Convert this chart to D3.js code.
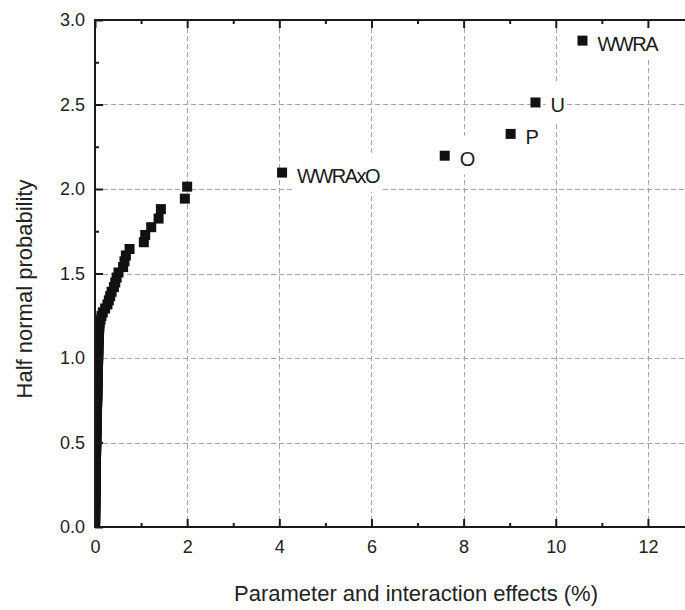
<!DOCTYPE html>
<html>
<head>
<meta charset="utf-8">
<script src="https://cdn.jsdelivr.net/npm/d3@7"></script>
<style>
  html, body { margin: 0; padding: 0; background: #fff; }
  svg { display: block; font-family: Arial, "Liberation Sans", sans-serif; }
</style>
</head>
<body>
<svg id="chart" width="685" height="610"></svg>
<script>
// Half-normal probability plot of parameter and interaction effects.

// Half normal probability of each ranked effect (ascending)
const halfNormalProb = [
  0.005,0.015,0.025,0.035,0.045,0.055,0.065,0.075,0.085,0.095,
  0.106,0.116,0.126,0.136,0.146,0.156,0.166,0.176,0.187,0.197,
  0.207,0.217,0.228,0.238,0.248,0.259,0.269,0.279,0.290,0.300,
  0.311,0.321,0.332,0.343,0.353,0.364,0.375,0.385,0.396,0.407,
  0.418,0.429,0.440,0.451,0.462,0.473,0.485,0.496,0.507,0.519,
  0.530,0.542,0.553,0.565,0.577,0.589,0.601,0.613,0.625,0.637,
  0.650,0.662,0.675,0.687,0.700,0.713,0.726,0.739,0.752,0.766,
  0.779,0.793,0.806,0.820,0.835,0.849,0.863,0.878,0.893,0.908,
  0.923,0.939,0.954,0.970,0.986,1.003,1.019,1.036,1.054,1.071,
  1.089,1.108,1.126,1.146,1.165,1.185,1.206,
  1.227,1.248,1.270,1.293,1.317,1.341,1.366,1.392,1.419,1.447,
  1.476,1.506,1.538,1.572,1.607,1.645,1.685,1.728,1.774,1.825,
  1.881,1.943,2.014,2.097,2.197,2.326,2.512,2.878
];

// Absolute effect size (%) of each ranked effect
const effectSize = [
  0.001,0.001,0.002,0.002,0.003,0.003,0.004,0.004,0.004,0.005,
  0.005,0.006,0.006,0.007,0.007,0.008,0.008,0.009,0.009,0.010,
  0.011,0.011,0.012,0.012,0.013,0.013,0.014,0.015,0.015,0.016,
  0.016,0.017,0.017,0.018,0.019,0.019,0.020,0.020,0.021,0.021,
  0.022,0.022,0.023,0.024,0.025,0.025,0.026,0.026,0.027,0.028,
  0.029,0.030,0.031,0.031,0.033,0.034,0.035,0.035,0.037,0.038,
  0.039,0.040,0.041,0.042,0.043,0.044,0.046,0.047,0.048,0.049,
  0.050,0.051,0.052,0.054,0.055,0.056,0.057,0.058,0.060,0.061,
  0.062,0.064,0.065,0.066,0.068,0.070,0.071,0.073,0.075,0.077,
  0.079,0.081,0.084,0.087,0.090,0.095,0.100,
  0.12,0.14,0.17,0.22,0.27,0.30,0.33,0.36,0.41,0.44,
  0.47,0.51,0.61,0.64,0.67,0.75,1.06,1.09,1.22,1.38,
  1.43,1.95,2.00,4.06,7.59,9.02,9.56,10.58
];

// Names of the largest effects, from the fifth largest up to the largest
const namedEffects = ["WWRAxO", "O", "P", "U", "WWRA"];

const xTicks = [0, 2, 4, 6, 8, 10, 12];
const xMinorTicks = [1, 3, 5, 7, 9, 11, 13];
const yTicks = [0.0, 0.5, 1.0, 1.5, 2.0, 2.5, 3.0];
const yMinorTicks = [0.25, 0.75, 1.25, 1.75, 2.25, 2.75];

const points = halfNormalProb.map((p, i) => ({ x: effectSize[i], y: p }));
const labelled = points.slice(points.length - namedEffects.length)
  .map((d, i) => ({ ...d, name: namedEffects[i] }));

const svg = d3.select("#chart");
const plotLeft = 95, plotTop = 20, plotBottom = 527, plotRight = 694;

const x = d3.scaleLinear().domain([0, 13]).range([plotLeft, plotRight]);
const y = d3.scaleLinear().domain([0, 3]).range([plotBottom, plotTop]);

const ink = "#1a1a1a";

// dashed grid
const grid = svg.append("g").attr("stroke", "#a3a3a3").attr("stroke-width", 1)
  .attr("stroke-dasharray", "5,3").attr("fill", "none");
grid.selectAll("line.v").data(xTicks.filter(t => t > 0)).join("line")
  .attr("class", "v")
  .attr("x1", d => Math.round(x(d)) + 0.5).attr("x2", d => Math.round(x(d)) + 0.5)
  .attr("y1", plotTop).attr("y2", plotBottom);
grid.selectAll("line.h").data(yTicks.filter(t => t > 0 && t < 3)).join("line")
  .attr("class", "h")
  .attr("y1", d => Math.round(y(d)) + 0.5).attr("y2", d => Math.round(y(d)) + 0.5)
  .attr("x1", plotLeft).attr("x2", plotRight);

// labels of the largest effects, on white boxes over the grid
const labelG = svg.append("g");
labelled.forEach(d => {
  const g = labelG.append("g");
  const t = g.append("text")
    .attr("x", x(d.x) + 15)
    .attr("y", y(d.y) + 10)
    .attr("font-size", 20)
    .attr("letter-spacing", d.name.length > 1 ? -1.5 : 0)
    .attr("fill", ink)
    .text(d.name);
  const bb = t.node().getBBox();
  g.insert("rect", "text")
    .attr("x", bb.x - 5).attr("y", bb.y - 12)
    .attr("width", bb.width + 7).attr("height", bb.height + 17)
    .attr("fill", "#fff");
});

// markers, clipped to the plot frame
svg.append("clipPath").attr("id", "plotClip")
  .append("rect").attr("x", plotLeft).attr("y", plotTop)
  .attr("width", plotRight - plotLeft).attr("height", plotBottom - plotTop);

const ms = 10;
svg.append("g").attr("clip-path", "url(#plotClip)")
  .selectAll("rect").data(points).join("rect")
  .attr("x", d => x(d.x) - ms / 2)
  .attr("y", d => y(d.y) - ms / 2)
  .attr("width", ms).attr("height", ms)
  .attr("fill", "#111");

// axes with inward ticks
function styleAxis(g) {
  g.select(".domain").remove();
  g.selectAll(".tick line").attr("stroke", ink).attr("stroke-width", 2);
  g.selectAll(".tick text").attr("fill", "#222").attr("font-size", 18)
    .attr("font-family", "Arial, 'Liberation Sans', sans-serif");
}

svg.append("g").attr("transform", `translate(0,${plotBottom})`)
  .call(d3.axisBottom(x).tickValues(xTicks).tickSize(-8).tickPadding(13)
    .tickFormat(d3.format("d")))
  .call(styleAxis);
svg.append("g").attr("transform", `translate(0,${plotBottom})`)
  .call(d3.axisBottom(x).tickValues(xMinorTicks).tickSize(-4).tickFormat(""))
  .call(styleAxis);
svg.append("g").attr("transform", `translate(0,${plotTop})`)
  .call(d3.axisTop(x).tickValues(xTicks).tickSize(-8).tickFormat(""))
  .call(styleAxis);
svg.append("g").attr("transform", `translate(0,${plotTop})`)
  .call(d3.axisTop(x).tickValues(xMinorTicks).tickSize(-4).tickFormat(""))
  .call(styleAxis);
svg.append("g").attr("transform", `translate(${plotLeft},0)`)
  .call(d3.axisLeft(y).tickValues(yTicks).tickSize(-8).tickPadding(10)
    .tickFormat(d3.format(".1f")))
  .call(styleAxis);
svg.append("g").attr("transform", `translate(${plotLeft},0)`)
  .call(d3.axisLeft(y).tickValues(yMinorTicks).tickSize(-4).tickFormat(""))
  .call(styleAxis);

// frame lines
const frame = svg.append("g").attr("stroke", ink).attr("stroke-width", 2);
frame.append("line").attr("x1", plotLeft).attr("x2", plotLeft).attr("y1", plotTop - 1).attr("y2", plotBottom + 1);
frame.append("line").attr("x1", plotLeft - 1).attr("x2", plotRight).attr("y1", plotTop).attr("y2", plotTop);
frame.append("line").attr("x1", plotLeft - 1).attr("x2", plotRight).attr("y1", plotBottom).attr("y2", plotBottom);

// axis titles
svg.append("text")
  .attr("x", 416).attr("y", 601)
  .attr("text-anchor", "middle").attr("font-size", 22).attr("fill", "#222")
  .text("Parameter and interaction effects (%)");
svg.append("text")
  .attr("transform", "translate(32,289) rotate(-90)")
  .attr("text-anchor", "middle").attr("font-size", 22).attr("fill", "#222")
  .text("Half normal probability");
</script>
</body>
</html>
